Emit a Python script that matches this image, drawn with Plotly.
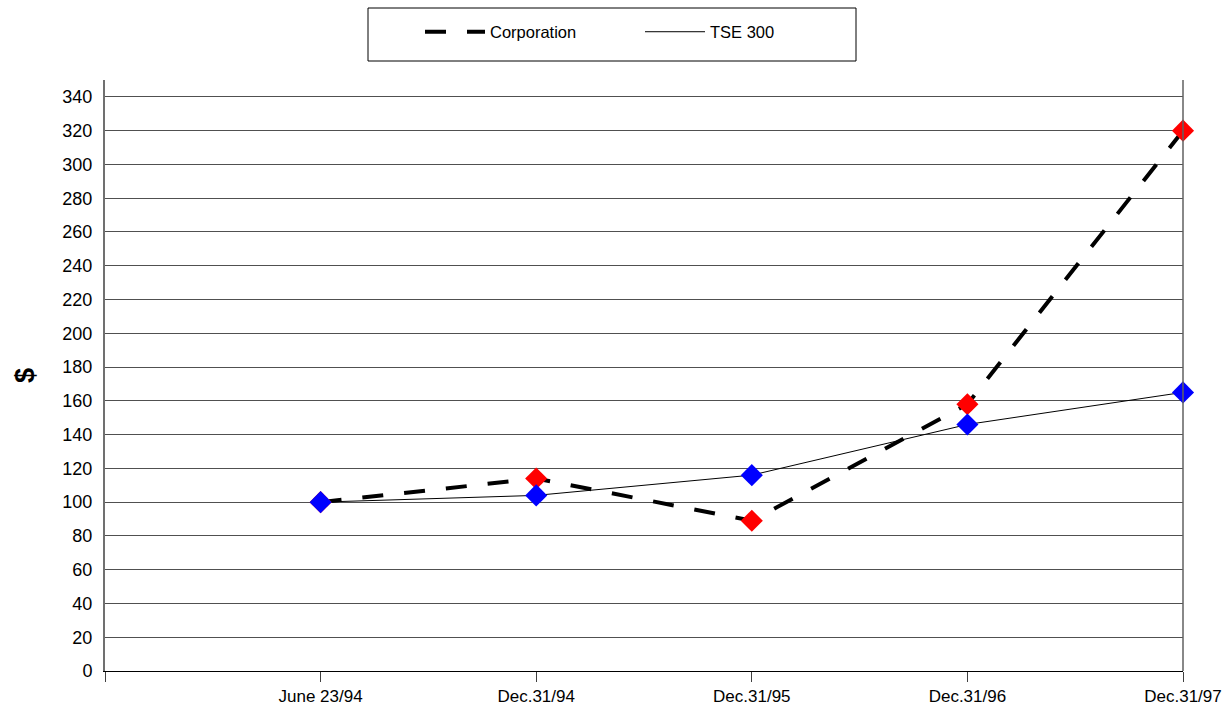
import plotly.graph_objects as go

categories = [" ", "June 23/94", "Dec.31/94", "Dec.31/95", "Dec.31/96", "Dec.31/97"]
dates = categories[1:]
corporation = [100, 114, 89, 158, 320]
tse300 = [100, 104, 116, 146, 165]
ytick_vals = list(range(0, 341, 20))

FONT = "Liberation Sans, Arial, sans-serif"

fig = go.Figure()
fig.add_trace(go.Scatter(x=dates, y=corporation, mode="lines", name="Corporation",
                         line=dict(color="black", width=4, dash="21px,21px"),
                         cliponaxis=False))
fig.add_trace(go.Scatter(x=dates, y=tse300, mode="lines", name="TSE 300",
                         line=dict(color="black", width=1), cliponaxis=False))
fig.add_trace(go.Scatter(x=dates, y=corporation, mode="markers", showlegend=False,
                         marker=dict(symbol="diamond", size=17, color="#FF0000"),
                         cliponaxis=False))
fig.add_trace(go.Scatter(x=dates, y=tse300, mode="markers", showlegend=False,
                         marker=dict(symbol="diamond", size=17, color="#0000FF"),
                         cliponaxis=False))

# right plot-area edge line
fig.add_shape(type="line", xref="paper", yref="paper", x0=1, x1=1, y0=0, y1=1,
              line=dict(color="#606060", width=1.5))

# legend frame (paper coords: plot spans x 105..1183 px, y 80..671 px)
def px_x(p):
    return (p - 105) / 1078.0

def px_y(p):
    return (671 - p) / 591.0

fig.add_shape(type="rect", xref="paper", yref="paper",
              x0=px_x(368), x1=px_x(856), y0=px_y(61), y1=px_y(8),
              line=dict(color="black", width=1), fillcolor="rgba(0,0,0,0)")

fig.update_layout(
    width=1225, height=708,
    margin=dict(l=105, r=42, t=80, b=37, autoexpand=False),
    paper_bgcolor="white", plot_bgcolor="white",
    font=dict(family=FONT, size=16, color="black"),
    showlegend=True,
    legend=dict(orientation="h", x=px_x(420), xanchor="left", y=px_y(32), yanchor="middle",
                borderwidth=0, bgcolor="rgba(0,0,0,0)",
                entrywidth=145, font=dict(family=FONT, size=16.5),
                itemwidth=60),
    xaxis=dict(type="category", categoryorder="array", categoryarray=categories,
               range=[0, 5], showgrid=False, zeroline=False, automargin=False,
               showline=True, linecolor="black", linewidth=1,
               ticks="outside", ticklen=10, tickcolor="#404040", tickwidth=1,
               ticklabelstandoff=0,
               tickfont=dict(family=FONT, size=17)),
    yaxis=dict(range=[0, 350], tickvals=ytick_vals, showgrid=True, automargin=False,
               gridcolor="#505050", gridwidth=1, zeroline=False,
               showline=True, linecolor="#707070", linewidth=2,
               ticks="", ticklabelstandoff=7,
               tickfont=dict(family=FONT, size=18),
               title=dict(text="<b>$</b>", font=dict(family=FONT, size=27), standoff=20)),
)

fig.write_html("out.html")
